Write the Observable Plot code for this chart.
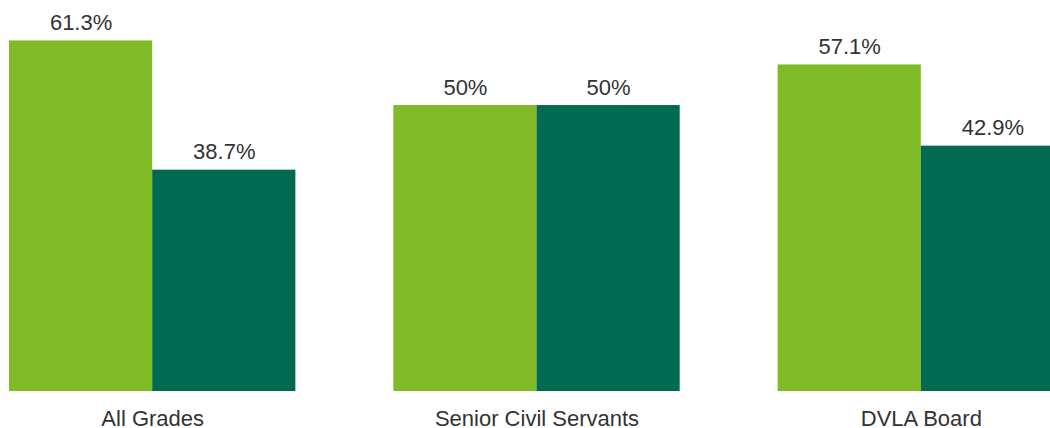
<!DOCTYPE html>
<html>
<head>
<meta charset="utf-8">
<script src="https://cdn.jsdelivr.net/npm/d3@7"></script>
<script src="https://cdn.jsdelivr.net/npm/@observablehq/plot@0.6"></script>
<style>
  html, body { margin: 0; padding: 0; background: #fff; overflow: hidden; }
</style>
</head>
<body>
<div id="chart"></div>
<script>
const groups = ["All Grades", "Senior Civil Servants", "DVLA Board"];
const seriesNames = ["Women", "Men"];
const women = [61.3, 50, 57.1];
const men = [38.7, 50, 42.9];
const colors = ["#80BA26", "#036A52"];

const data = [];
groups.forEach((g, i) => {
  data.push({group: g, series: seriesNames[0], value: women[i]});
  data.push({group: g, series: seriesNames[1], value: men[i]});
});

const rangeX = [9, 1064];
const padInner = 98 / 384.5;
const step = (rangeX[1] - rangeX[0]) / (groups.length - padInner);
const half = step * (1 - padInner) / 2;

const first = data.filter(d => d.series === seriesNames[0]);
const second = data.filter(d => d.series === seriesNames[1]);
const fmt = d => `${d.value}%`;

const chart = Plot.plot({
  width: 1050,
  height: 428,
  marginTop: 0,
  marginBottom: 37,
  marginLeft: 0,
  marginRight: 0,
  style: {fontFamily: "'Liberation Sans', Arial, sans-serif", fontSize: "22px", color: "#333", background: "#fff"},
  x: {domain: groups, range: rangeX, paddingInner: padInner, paddingOuter: 0, round: false, axis: null, label: null},
  y: {domain: [0, 68.37], axis: null},
  color: {domain: seriesNames, range: colors},
  marks: [
    Plot.barY(first, {x: "group", y: "value", fill: "series", insetRight: half}),
    Plot.barY(second, {x: "group", y: "value", fill: "series", insetLeft: half}),
    Plot.text(first, {x: "group", y: "value", text: fmt, dx: -half / 2, dy: -11, lineAnchor: "bottom", fill: "#333"}),
    Plot.text(second, {x: "group", y: "value", text: fmt, dx: half / 2, dy: -11, lineAnchor: "bottom", fill: "#333"}),
    Plot.axisX({domain: groups, tickSize: 0, tickPadding: 19, color: "#333", fontSize: 22, label: null})
  ]
});
document.getElementById("chart").appendChild(chart);
</script>
</body>
</html>
